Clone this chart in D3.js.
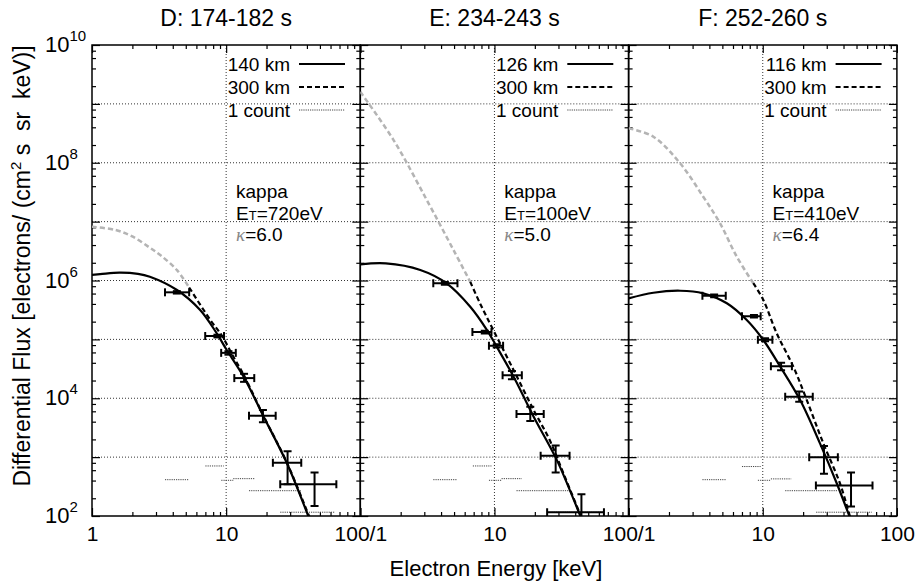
<!DOCTYPE html>
<html><head><meta charset="utf-8">
<script src="https://cdn.jsdelivr.net/npm/d3@7"></script>
<style>
body{margin:0;background:#fff}
text{font-family:"Liberation Sans",Arial,Helvetica,sans-serif;fill:#000}
</style>
</head><body>
<svg id="chart" width="916" height="586"></svg>
<script>
// ---------- data ----------
const titles = ["D: 174-182 s", "E: 234-243 s", "F: 252-260 s"];
const altLabels = ["140 km", "126 km", "116 km"];
const refLabel = "300 km";
const countLabel = "1 count";
const tempValues = ["720eV", "100eV", "410eV"];
const kappaValues = ["6.0", "5.0", "6.4"];
const xTickValues = [1, 10, 100];
const xTickLabels = [["1", "10", "100/1"], ["", "10", "100/1"], ["", "10", "100"]];
const yLabelValues = [1e2, 1e4, 1e6, 1e8, 1e10];
const yLabelExps = ["2", "4", "6", "8", "10"];

// low-altitude fit curves [E keV, flux]
const fitD = [[1,1.25e6],[1.15,1.28e6],[1.6,1.36e6],[2.2,1.3e6],[2.7,1.16e6],[4.3,6.9e5],[6.4,3.16e5],[8.5,1.27e5],[10.1,6.6e4],[13.5,2.32e4],[19,4.9e3],[28.4,7.85e2],[41,1.0e2],[45,6.0e1]];
const fitE = [[1,1.88e6],[1.55,1.95e6],[2.8,1.51e6],[4.4,8.95e5],[6.6,3.59e5],[8.8,1.44e5],[10.4,7.5e4],[13.9,2.32e4],[19.6,4.86e3],[29.2,8.9e2],[43.7,1.0e2],[48,6.0e1]];
const fitF = [[1,4.98e5],[1.53,6.2e5],[2.42,6.7e5],[3.6,6.05e5],[5.4,4.1e5],[7.6,2.13e5],[10.1,9.75e4],[13.5,3.44e4],[19,9.3e3],[26.7,1.71e3],[35.6,3.6e2],[44.2,1.0e2],[48,6.0e1]];

// 300 km curves: grey part (below data range) and black part
const refGreyD = [[1,8.2e6],[1.5,7.2e6],[2.0,5.6e6],[2.7,3.6e6],[3.3,2.6e6],[4.3,1.5e6],[5.3,7.6e5]];
const refD = [[5.3,7.6e5],[7.6,2.15e5],[9.3,1.15e5],[11.3,5.1e4],[13.5,2.5e4],[19,5.0e3],[28.4,8.0e2],[41.5,1.0e2],[45,6.5e1]];
const refGreyE = [[1,1.6e9],[1.77,2.43e8],[3.13,2.33e7],[4.95,3.3e6],[6.6,9.5e5]];
const refE = [[6.6,9.5e5],[7.8,4.1e5],[9.8,1.44e5],[13.9,3.0e4],[19.6,6.3e3],[25.8,1.95e3],[33,5.0e2],[44,1.0e2],[48,6.0e1]];
const refGreyF = [[1,3.85e8],[1.53,2.77e8],[2.42,9.8e7],[3.6,2.65e7],[4.8,9.4e6],[6.4,2.54e6],[8.5,9.0e5]];
const refF = [[8.5,9.0e5],[10.1,4.67e5],[12.7,1.27e5],[16.9,3.44e4],[21.3,9.3e3],[28.3,1.71e3],[37.6,3.6e2],[44.6,1.0e2],[48,6.0e1]];

// measured points [E, flux, Elo, Ehi, Flo, Fhi]
const ptsD = [[4.29,6.3e5,3.5,5.3,6.0e5,6.6e5],[8.61,1.14e5,6.98,9.64,1.08e5,1.2e5],[10.4,5.9e4,9.18,11.8,5.5e4,6.3e4],[13.6,2.2e4,11.5,16.2,1.9e4,2.6e4],[18.8,5.05e3,14.8,23.4,3.9e3,6.3e3],[28.7,8.05e2,22.3,36.3,3.47e2,1.26e3],[45.6,3.45e2,25.3,66.3,1.48e2,5.5e2]];
const ptsE = [[4.27,8.95e5,3.5,5.3,8.5e5,9.4e5],[8.47,1.33e5,6.85,9.5,1.26e5,1.4e5],[10.4,7.8e4,9.1,11.6,7.3e4,8.3e4],[13.5,2.45e4,11.5,16.0,2.1e4,2.9e4],[18.5,5.4e3,14.6,23.3,4.1e3,7.2e3],[28.6,1.06e3,22.1,36.3,5.5e2,1.58e3],[44.5,1.16e2,24.7,65.5,30,2.34e2]];
const ptsF = [[4.34,5.5e5,3.55,5.3,5.2e5,5.8e5],[8.6,2.47e5,7.0,9.65,2.35e5,2.6e5],[10.4,9.9e4,9.2,11.8,9.3e4,1.05e5],[13.7,3.5e4,11.5,16.5,3.0e4,4.0e4],[18.7,1.06e4,14.7,23.6,8.7e3,1.3e4],[28.6,1.0e3,22.2,36.3,5.2e2,1.55e3],[45.5,3.3e2,24.9,65.8,1.45e2,5.5e2]];

// one-count levels [Elo, Ehi, flux]
const countD = [[3.5,5.3,414],[7.0,9.6,708],[9.2,11.3,404],[11.3,16.2,431],[14.8,36.3,269],[25.3,65,116]];
const countE = [[3.5,5.3,414],[6.9,9.5,708],[9.1,11.3,404],[11.3,16.0,431],[14.6,36,269],[24.7,65.5,116]];
const countF = [[3.55,5.3,414],[7.0,9.65,692],[9.2,11.5,404],[11.5,16.3,427],[14.7,36,269],[25,65,116]];

const panels = [
  {fit: fitD, grey: refGreyD, ref: refD, pts: ptsD, count: countD},
  {fit: fitE, grey: refGreyE, ref: refE, pts: ptsE, count: countE},
  {fit: fitF, grey: refGreyF, ref: refF, pts: ptsF, count: countF}
];

// ---------- layout ----------
const svg = d3.select("#chart");
const yTop = 45, yBot = 516;
const lefts = [92, 360.3, 628.6];
const pw = 268.3;
const y = d3.scaleLog().domain([1e2, 1e10]).range([yBot, yTop]);

const decades = d3.range(2, 11).map(e => Math.pow(10, e));
const yMinor = [];
for (let e = 2; e < 10; e++) [2,4,6,8].forEach(m => yMinor.push(m * Math.pow(10, e)));
const xMinor = [];
[1, 10].forEach(d => { for (let m = 2; m <= 9; m++) xMinor.push(m * d); });

panels.forEach((p, i) => {
  const L = lefts[i], R = L + pw;
  const x = d3.scaleLog().domain([1, 100]).range([L, R]);
  const g = svg.append("g");

  const clipId = "clip" + i;
  svg.append("clipPath").attr("id", clipId)
    .append("rect").attr("x", L).attr("y", yTop).attr("width", pw).attr("height", yBot - yTop);

  // grid
  const grid = g.append("g");
  grid.selectAll("line.hg").data(decades.slice(1, -1)).enter().append("line")
    .attr("x1", L).attr("x2", R).attr("y1", d => y(d)).attr("y2", d => y(d))
    .attr("stroke", "#333").attr("stroke-width", 1).attr("stroke-dasharray", "1,2");
  grid.append("line").attr("x1", x(10)).attr("x2", x(10)).attr("y1", yTop).attr("y2", yBot)
    .attr("stroke", "#333").attr("stroke-width", 1).attr("stroke-dasharray", "1,2");

  // axes ticks (inside)
  const mk = (axis, tr) => {
    const a = g.append("g").attr("transform", tr).call(axis);
    a.select(".domain").remove();
    a.selectAll(".tick line").attr("stroke", "#000").attr("stroke-width", 1.2);
    return a;
  };
  const xb = mk(d3.axisBottom(x).tickValues(xTickValues).tickSize(-8).tickPadding(10)
      .tickFormat((d, k) => xTickLabels[i][k]), `translate(0,${yBot})`);
  xb.selectAll("text").attr("font-size", 21).attr("font-family", "Liberation Sans, Arial, sans-serif").attr("fill", "#000");
  mk(d3.axisBottom(x).tickValues(xMinor).tickSize(-4).tickFormat(""), `translate(0,${yBot})`);
  mk(d3.axisTop(x).tickValues(xTickValues).tickSize(-8).tickFormat(""), `translate(0,${yTop})`);
  mk(d3.axisTop(x).tickValues(xMinor).tickSize(-4).tickFormat(""), `translate(0,${yTop})`);
  mk(d3.axisLeft(y).tickValues(decades).tickSize(-8).tickFormat(""), `translate(${L},0)`);
  mk(d3.axisLeft(y).tickValues(yMinor).tickSize(-4).tickFormat(""), `translate(${L},0)`);
  mk(d3.axisRight(y).tickValues(decades).tickSize(-8).tickFormat(""), `translate(${R},0)`);
  mk(d3.axisRight(y).tickValues(yMinor).tickSize(-4).tickFormat(""), `translate(${R},0)`);

  // frame
  g.append("rect").attr("x", L).attr("y", yTop).attr("width", pw).attr("height", yBot - yTop)
    .attr("fill", "none").attr("stroke", "#000").attr("stroke-width", 1.5);

  // data layer
  const dl = g.append("g").attr("clip-path", `url(#${clipId})`);
  const line = d3.line().x(d => x(d[0])).y(d => y(d[1])).curve(d3.curveCatmullRom.alpha(0.5));

  // one count
  dl.selectAll("line.cnt").data(p.count).enter().append("line")
    .attr("x1", d => x(d[0])).attr("x2", d => x(d[1]))
    .attr("y1", d => y(d[2])).attr("y2", d => y(d[2]))
    .attr("stroke", "#444").attr("stroke-width", 1).attr("stroke-dasharray", "1.2,1");

  dl.append("path").attr("d", line(p.grey)).attr("fill", "none")
    .attr("stroke", "#b4b4b4").attr("stroke-width", 2.5).attr("stroke-dasharray", "5,3");
  dl.append("path").attr("d", line(p.ref)).attr("fill", "none")
    .attr("stroke", "#000").attr("stroke-width", 2.2).attr("stroke-dasharray", "5,3");
  dl.append("path").attr("d", line(p.fit)).attr("fill", "none")
    .attr("stroke", "#000").attr("stroke-width", 2.2);

  // error bars
  const eb = dl.selectAll("g.eb").data(p.pts).enter().append("g")
    .attr("stroke", "#000").attr("stroke-width", 2);
  eb.append("line").attr("x1", d => x(d[2])).attr("x2", d => x(d[3])).attr("y1", d => y(d[1])).attr("y2", d => y(d[1]));
  eb.append("line").attr("x1", d => x(d[2])).attr("x2", d => x(d[2])).attr("y1", d => y(d[1]) - 4).attr("y2", d => y(d[1]) + 4);
  eb.append("line").attr("x1", d => x(d[3])).attr("x2", d => x(d[3])).attr("y1", d => y(d[1]) - 4).attr("y2", d => y(d[1]) + 4);
  eb.append("line").attr("x1", d => x(d[0])).attr("x2", d => x(d[0])).attr("y1", d => y(d[4])).attr("y2", d => y(d[5]));
  eb.append("line").attr("x1", d => x(d[0]) - 4).attr("x2", d => x(d[0]) + 4).attr("y1", d => y(d[4])).attr("y2", d => y(d[4]));
  eb.append("line").attr("x1", d => x(d[0]) - 4).attr("x2", d => x(d[0]) + 4).attr("y1", d => y(d[5])).attr("y2", d => y(d[5]));

  // title
  svg.append("text").attr("x", (L + R) / 2).attr("y", 26).attr("text-anchor", "middle")
    .attr("font-size", 23).text(titles[i]);

  // legend
  const legRows = [altLabels[i], refLabel, countLabel];
  const legY = [64, 87, 110];
  legRows.forEach((t, k) => {
    svg.append("text").attr("x", L + 198).attr("y", legY[k] + 6.5).attr("text-anchor", "end")
      .attr("font-size", 19).text(t);
  });
  svg.append("line").attr("x1", L + 207).attr("x2", L + 253).attr("y1", legY[0]).attr("y2", legY[0])
    .attr("stroke", "#000").attr("stroke-width", 2.2);
  svg.append("line").attr("x1", L + 207).attr("x2", L + 253).attr("y1", legY[1]).attr("y2", legY[1])
    .attr("stroke", "#000").attr("stroke-width", 2.2).attr("stroke-dasharray", "5,3");
  svg.append("line").attr("x1", L + 207).attr("x2", L + 253).attr("y1", legY[2]).attr("y2", legY[2])
    .attr("stroke", "#444").attr("stroke-width", 1).attr("stroke-dasharray", "1.2,1");

  // annotation
  const ax = L + 144;
  svg.append("text").attr("x", ax).attr("y", 198).attr("font-size", 19).text("kappa");
  const t2 = svg.append("text").attr("x", ax).attr("y", 220).attr("font-size", 19);
  t2.append("tspan").text("E");
  t2.append("tspan").attr("font-size", 13).text("T");
  t2.append("tspan").text("=" + tempValues[i]);
  const t3 = svg.append("text").attr("x", ax).attr("y", 241).attr("font-size", 19);
  t3.append("tspan").attr("font-style", "italic").attr("fill", "#888").attr("font-family", "Liberation Serif, serif").text("κ");
  t3.append("tspan").text("=" + kappaValues[i]);
});

// y tick labels (panel D)
yLabelValues.forEach((v, k) => {
  const t = svg.append("text").attr("x", 45).attr("y", y(v) + 7).attr("font-size", 22);
  t.append("tspan").text("10");
  t.append("tspan").attr("font-size", 15).attr("dy", -11).text(yLabelExps[k]);
});

// axis titles
svg.append("text").attr("x", 496).attr("y", 576).attr("text-anchor", "middle")
  .attr("font-size", 22).text("Electron Energy [keV]");
const yt = svg.append("text").attr("transform", "translate(30,266) rotate(-90)")
  .attr("text-anchor", "middle").attr("font-size", 23).style("white-space", "pre");
yt.append("tspan").text("Differential Flux [electrons/ (cm");
yt.append("tspan").attr("font-size", 15).attr("dy", -9).text("2");
yt.append("tspan").attr("dy", 9).text(" s  sr  keV)]");
</script>
</body></html>
